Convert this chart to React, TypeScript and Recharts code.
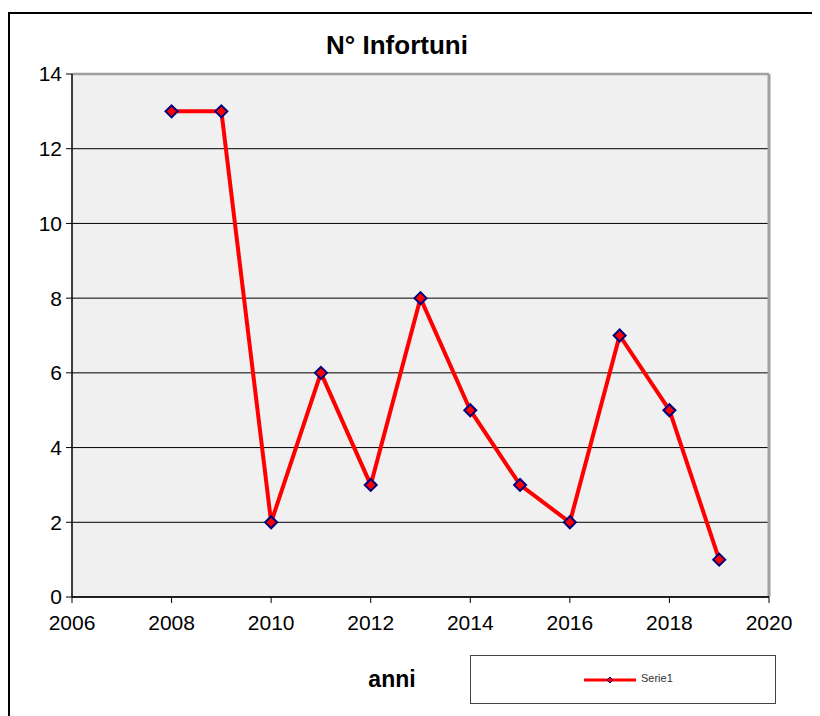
import React from "react";
import {
  LineChart,
  Line,
  XAxis,
  YAxis,
  CartesianGrid,
  ReferenceLine,
} from "recharts";

const years = [2008, 2009, 2010, 2011, 2012, 2013, 2014, 2015, 2016, 2017, 2018, 2019];
const infortuni = [13, 13, 2, 6, 3, 8, 5, 3, 2, 7, 5, 1];
const xTicks = [2006, 2008, 2010, 2012, 2014, 2016, 2018, 2020];
const yTicks = [0, 2, 4, 6, 8, 10, 12, 14];
const seriesName = "Serie1";
const title = "N° Infortuni";
const xLabel = "anni";

const data = years.map((y, i) => ({ anno: y, valore: infortuni[i] }));

const FONT = "'Liberation Sans', Arial, sans-serif";

const Diamond = (props: any) => {
  const { cx, cy } = props;
  if (cx == null || cy == null) return null;
  const r = 6;
  return (
    <path
      d={`M${cx},${cy - r}L${cx + r},${cy}L${cx},${cy + r}L${cx - r},${cy}Z`}
      fill="#ff0000"
      stroke="#000080"
      strokeWidth={2}
    />
  );
};

const LegendBox = () => (
  <div
    style={{
      position: "absolute",
      left: 462,
      top: 647,
      width: 306,
      height: 49,
      boxSizing: "border-box",
      border: "1.5px solid #444",
      background: "#fff",
      fontFamily: FONT,
    }}
  >
    <svg width={60} height={10} style={{ position: "absolute", left: 111, top: 19 }}>
      <line x1={2} y1={5} x2={54} y2={5} stroke="#ff0000" strokeWidth={3} />
      <path d="M28,2L31,5L28,8L25,5Z" fill="#ff0000" stroke="#000080" strokeWidth={1} />
    </svg>
    <div
      style={{
        position: "absolute",
        left: 170,
        top: 16,
        fontSize: 11,
        color: "#333",
      }}
    >
      {seriesName}
    </div>
  </div>
);

export default function App() {
  return (
    <div style={{ position: "relative", width: 812, height: 708, overflow: "hidden" }}>
      <div
        style={{
          position: "absolute",
          left: 0,
          top: 4,
          width: 830,
          height: 720,
          borderTop: "2px solid #000",
          borderLeft: "2px solid #000",
          boxSizing: "border-box",
        }}
      />
      <div
        style={{
          position: "absolute",
          left: 3,
          width: 772,
          top: 22,
          textAlign: "center",
          fontFamily: FONT,
          fontWeight: "bold",
          fontSize: 26,
          color: "#000",
        }}
      >
        {title}
      </div>
      <div
        style={{
          position: "absolute",
          left: 334,
          width: 100,
          top: 658,
          textAlign: "center",
          fontFamily: FONT,
          fontWeight: "bold",
          fontSize: 23,
          color: "#000",
        }}
      >
        {xLabel}
      </div>
      <LineChart
        width={812}
        height={708}
        data={data}
        margin={{ top: 66, right: 51, bottom: 79, left: 0 }}
        style={{ position: "absolute", left: 0, top: 0 }}
      >
        <CartesianGrid
          vertical={false}
          stroke="#000"
          strokeWidth={1}
          fill="#f0f0f0"
          fillOpacity={1}
        />
        <XAxis
          dataKey="anno"
          type="number"
          domain={[2006, 2020]}
          ticks={xTicks}
          interval={0}
          height={40}
          tickSize={6}
          tickMargin={12}
          axisLine={{ stroke: "#000", strokeWidth: 1.5 }}
          tickLine={{ stroke: "#000" }}
          tick={{ fill: "#000", fontSize: 21, fontFamily: FONT }}
        />
        <YAxis
          type="number"
          domain={[0, 14]}
          ticks={yTicks}
          interval={0}
          width={64}
          tickSize={6}
          tickMargin={4}
          axisLine={{ stroke: "#000", strokeWidth: 1.5 }}
          tickLine={{ stroke: "#000" }}
          tick={{ fill: "#000", fontSize: 21, fontFamily: FONT }}
        />
        <ReferenceLine y={14} stroke="#a0a0a0" strokeWidth={2.5} />
        <ReferenceLine x={2020} stroke="#a0a0a0" strokeWidth={3} />
        <Line
          type="linear"
          dataKey="valore"
          name={seriesName}
          stroke="#ff0000"
          strokeWidth={4}
          dot={<Diamond />}
          activeDot={false}
          isAnimationActive={false}
        />
      </LineChart>
      <LegendBox />
    </div>
  );
}
